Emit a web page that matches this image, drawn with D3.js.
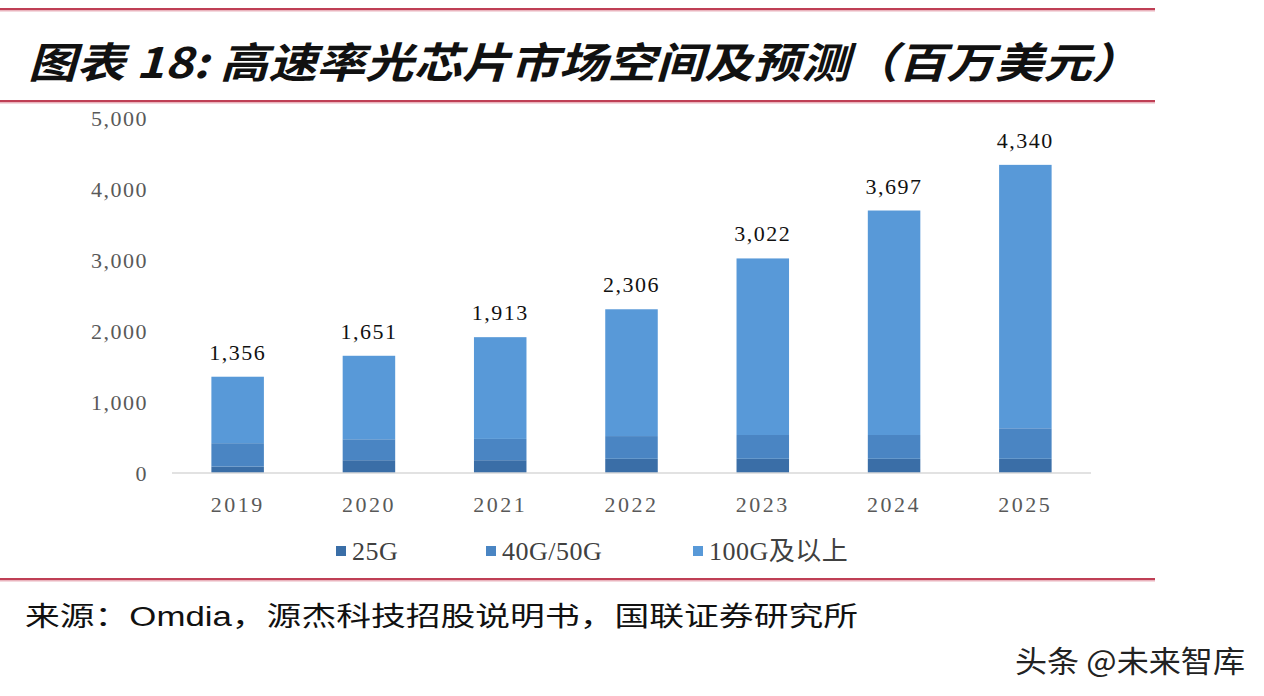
<!DOCTYPE html>
<html>
<head>
<meta charset="utf-8">
<script src="https://cdn.jsdelivr.net/npm/d3@7"></script>
<style>
  body { margin: 0; background: #fff; }
  svg { display: block; }
</style>
</head>
<body>
<div id="chart"></div>
<script>
// 高速率光芯片市场空间及预测（百万美元）

const years = ['2019', '2020', '2021', '2022', '2023', '2024', '2025'];
const series = ['25G', '40G/50G', '100G及以上'];
const v25G = [90, 180, 180, 200, 200, 200, 200];
const v40G = [330, 295, 300, 320, 335, 335, 430];
const v100G = [936, 1176, 1433, 1786, 2487, 3162, 3710];
const totals = [1356, 1651, 1913, 2306, 3022, 3697, 4340];
const yTicks = [0, 1000, 2000, 3000, 4000, 5000];
const colors = ['#3a6ea7', '#4a85c3', '#5899d8'];

function main() {
  const width = 1264;
  const height = 696;

  const svg = d3.select('#chart').append('svg')
    .attr('width', width)
    .attr('height', height);

  svg.append('rect').attr('width', width).attr('height', height).attr('fill', '#fff');

  // lignes rouges
  [9, 101, 579].forEach(y => {
    svg.append('line').attr('x1', 0).attr('x2', 1155).attr('y1', y + 1.5).attr('y2', y + 1.5)
      .attr('stroke', '#eab3bd').attr('stroke-width', 2);
    svg.append('line').attr('x1', 0).attr('x2', 1155).attr('y1', y).attr('y2', y)
      .attr('stroke', '#bf3f55').attr('stroke-width', 2);
  });

  // titre
  svg.append('text')
    .attr('x', 28).attr('y', 78)
    .attr('font-family', '"Noto Sans CJK SC", sans-serif')
    .attr('font-weight', 'bold')
    .attr('font-style', 'italic')
    .attr('font-size', 42)
    .attr('fill', '#111')
    .attr('textLength', 1112)
    .attr('lengthAdjust', 'spacingAndGlyphs')
    .text('图表 18: 高速率光芯片市场空间及预测（百万美元）');

  const x = d3.scaleBand()
    .domain(years)
    .range([172, 1091])
    .paddingInner(0.6)
    .paddingOuter(0.3);

  const y = d3.scaleLinear()
    .domain([0, 5000])
    .range([473, 118]);

  const table = years.map((yr, i) => ({ year: yr, '25G': v25G[i], '40G/50G': v40G[i], '100G及以上': v100G[i] }));
  const stacked = d3.stack().keys(series)(table);

  // Axe Y (étiquettes seulement)
  const yAxis = svg.append('g')
    .attr('transform', 'translate(160,0)')
    .call(d3.axisLeft(y).tickValues(yTicks).tickFormat(d3.format(',')).tickSize(0).tickPadding(12));
  yAxis.select('.domain').remove();
  yAxis.selectAll('text')
    .attr('font-family', '"Liberation Serif", serif')
    .attr('font-size', 22)
    .attr('letter-spacing', 1.5)
    .attr('fill', '#595959');

  // Barres
  svg.append('g').selectAll('g')
    .data(stacked)
    .join('g')
    .attr('fill', (d, i) => colors[i])
    .selectAll('rect')
    .data(d => d)
    .join('rect')
    .attr('x', d => x(d.data.year))
    .attr('y', d => y(d[1]))
    .attr('width', x.bandwidth())
    .attr('height', d => y(d[0]) - y(d[1]));

  // Axe X
  const xAxis = svg.append('g')
    .attr('transform', `translate(0,${y(0)})`)
    .call(d3.axisBottom(x).tickSize(0).tickPadding(23));
  xAxis.select('.domain').attr('stroke', '#d9d9d9').attr('stroke-width', 1.5)
    .attr('d', 'M172,0H1091');
  xAxis.selectAll('text')
    .attr('font-family', '"Liberation Serif", serif')
    .attr('font-size', 22)
    .attr('letter-spacing', 2.5)
    .attr('fill', '#595959');

  // Totaux
  svg.append('g').selectAll('text')
    .data(years)
    .join('text')
    .attr('x', d => x(d) + x.bandwidth() / 2)
    .attr('y', (d, i) => y(totals[i]) - 17)
    .attr('text-anchor', 'middle')
    .attr('font-family', '"Liberation Serif", serif')
    .attr('font-size', 22)
    .attr('letter-spacing', 1.5)
    .attr('fill', '#111')
    .text((d, i) => d3.format(',')(totals[i]));

  // Légende
  const legendX = [336, 486, 693];
  const legend = svg.append('g').selectAll('g')
    .data(series)
    .join('g')
    .attr('transform', (d, i) => `translate(${legendX[i]},546)`);
  legend.append('rect').attr('width', 10).attr('height', 10).attr('fill', (d, i) => colors[i]);
  legend.append('text')
    .attr('x', 16).attr('y', 14)
    .attr('font-family', '"Liberation Serif", "Noto Sans CJK SC", serif')
    .attr('font-size', 26)
    .attr('letter-spacing', 0.5)
    .attr('fill', '#404040')
    .text(d => d);

  // Source
  svg.append('text')
    .attr('x', 25).attr('y', 626)
    .attr('font-family', '"Liberation Sans", "Noto Sans CJK SC", sans-serif')
    .attr('font-size', 27)
    .attr('fill', '#111')
    .attr('textLength', 833)
    .attr('lengthAdjust', 'spacingAndGlyphs')
    .text('来源：Omdia，源杰科技招股说明书，国联证券研究所');

  // Filigrane
  svg.append('text')
    .attr('x', 1015).attr('y', 672)
    .attr('font-family', '"Noto Sans CJK SC", sans-serif')
    .attr('font-size', 30)
    .attr('fill', '#222')
    .attr('textLength', 230)
    .attr('lengthAdjust', 'spacingAndGlyphs')
    .text('头条 @未来智库');
}

main();
</script>
</body>
</html>
